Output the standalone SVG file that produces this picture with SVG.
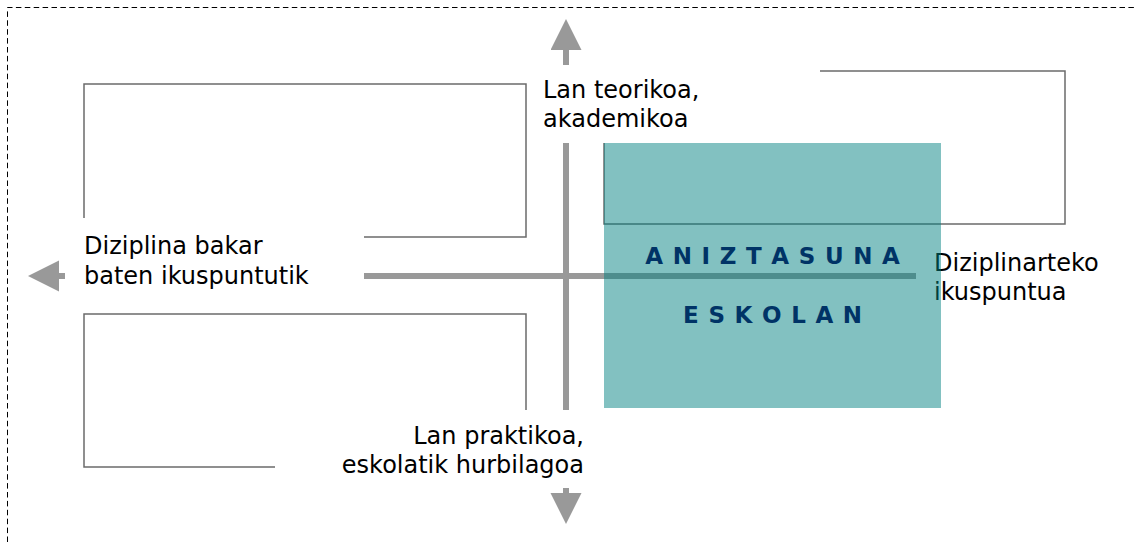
<svg xmlns="http://www.w3.org/2000/svg" width="1134" height="542" viewBox="0 0 1134 542">
  <style>
    .frame { fill: none; stroke: #000; stroke-width: 1; stroke-dasharray: 5.5 3.4; }
    .box { fill: none; stroke: #6b6b6b; stroke-width: 1.5; }
    .axis { fill: none; stroke: #999999; stroke-width: 6; }
    .lbl { font-family: "DejaVu Sans", Verdana, sans-serif; font-size: 24px; fill: #000; }
    .title { font-family: "DejaVu Sans", Verdana, sans-serif; font-size: 23px; font-weight: bold; fill: #003366; letter-spacing: 0.8px; }
    .teal { fill: #008080; fill-opacity: 0.49; }
  </style>
  <defs>
    <marker id="head" markerUnits="userSpaceOnUse" markerWidth="32" markerHeight="32" refX="0" refY="15.5" orient="auto" viewBox="0 0 32 32">
      <path d="M0,0 L31,15.5 L0,31 Z" fill="#999999"/>
    </marker>
  </defs>

  <path class="frame" d="M7.5,542 V7.5 H1134"/>

  <g id="box-top-left">
    <path class="box" d="M84,218 V84 H526 V237 H364"/>
  </g>
  <g id="box-bottom-left">
    <path class="box" d="M526,410 V314 H84 V467 H275"/>
  </g>
  <g id="box-top-right">
    <path class="box" d="M820,71 H1065 V224 H604 V143"/>
  </g>

  <g id="connectors">
    <line class="axis" x1="566" y1="143" x2="566" y2="410"/>
    <line class="axis" x1="364" y1="276" x2="916" y2="276"/>
    <line class="axis" x1="566" y1="65" x2="566" y2="50" marker-end="url(#head)"/>
    <line class="axis" x1="566" y1="488" x2="566" y2="493" marker-end="url(#head)"/>
    <line class="axis" x1="65" y1="276" x2="59" y2="276" marker-end="url(#head)"/>
  </g>

  <g id="label-top">
    <text class="lbl" x="543" y="98">Lan teorikoa,</text>
    <text class="lbl" x="543" y="127">akademikoa</text>
  </g>
  <g id="label-left">
    <text class="lbl" x="84" y="254">Diziplina bakar</text>
    <text class="lbl" x="84" y="284">baten ikuspuntutik</text>
  </g>
  <g id="label-bottom">
    <text class="lbl" x="584" y="444" text-anchor="end">Lan praktikoa,</text>
    <text class="lbl" x="584" y="473" text-anchor="end">eskolatik hurbilagoa</text>
  </g>
  <g id="label-right">
    <text class="lbl" x="934" y="271">Diziplinarteko</text>
    <text class="lbl" x="934" y="300">ikuspuntua</text>
  </g>

  <g id="aniztasuna-eskolan">
    <rect class="teal" x="604" y="143" width="337" height="265"/>
    <text class="title" x="773" y="263.5" text-anchor="middle">A N I Z T A S U N A</text>
    <text class="title" x="773" y="322.5" text-anchor="middle">E S K O L A N</text>
  </g>
</svg>
